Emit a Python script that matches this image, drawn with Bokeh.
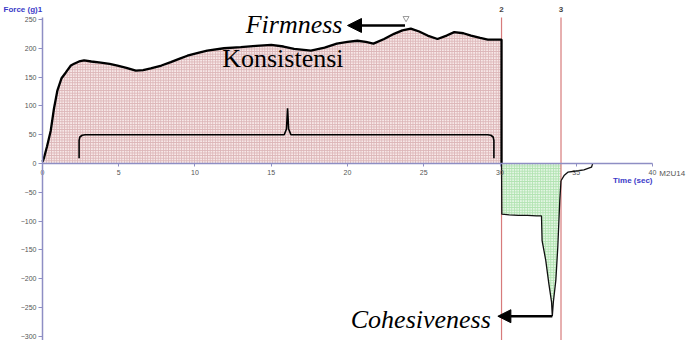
from bokeh.plotting import figure
from bokeh.models import Range1d, FixedTicker, Arrow, NormalHead
from bokeh.core.properties import value
from bokeh.embed import file_html
from bokeh.resources import INLINE

# ---- data ----
comp_time = [0, 0.1, 0.3, 0.54, 0.75, 0.98, 1.25, 1.53, 1.86, 2.07, 2.4, 2.73, 3.2, 3.82,
             4.4, 4.92, 5.5, 6.12, 6.6, 7.1, 7.8, 8.41, 9.0, 9.5, 10.2, 10.8, 11.9, 13.0,
             14.0, 15.0, 15.8, 16.5, 17.6, 18.5, 19.3, 20.0, 20.65, 21.2, 21.7, 22.4, 23.05,
             23.6, 24.15, 24.7, 25.25, 25.9, 26.5, 27.0, 27.6, 28.1, 28.7, 29.2, 30.1]
comp_force = [3, 10, 30, 57, 95, 127, 148, 158, 170, 173, 177, 179, 177, 175,
              173, 170, 166, 161, 162, 165, 170, 176, 182, 187, 192, 196, 200, 202,
              204, 206, 203, 199, 196, 201, 208, 211, 213, 211, 208, 216, 225,
              231, 234, 229, 222, 216, 222, 228, 226, 222, 218, 215, 215]

ret_time = [30.1, 30.12, 30.6, 31.2, 31.8, 32.4, 32.72, 32.76, 33.0, 33.2, 33.38, 33.43,
            33.5, 33.66, 33.79, 33.92, 34.0]
ret_force = [0, -88, -89, -90, -90, -91, -91, -134, -168, -208, -240, -265,
             -240, -203, -145, -64, -30]

tail_time = [34.0, 34.2, 34.45, 35.0, 35.5, 36.0, 36.07]
tail_force = [-30, -21, -15, -13, -11, -6.4, -0.6]

x_ticks = [0, 5, 10, 15, 20, 25, 30, 35, 40]
y_ticks = [-300, -250, -200, -150, -100, -50, 0, 50, 100, 150, 200, 250]

anchor_times = [30.1, 34.0]
anchor_labels = ["2", "3"]

brace_time = [2.4, 2.4, 2.45, 2.6, 2.8, 15.85, 16.0, 16.07, 16.14, 16.29, 29.2, 29.4, 29.55, 29.6, 29.6]
brace_force = [9, 40, 46, 49, 50, 50, 60, 96, 60, 50, 50, 49, 46, 40, 9]

Y_TOP, Y_BOT = 253.5, -307

# ---- figure (frame covers the whole canvas; axes are pinned at 0) ----
p = figure(width=689, height=340, x_range=Range1d(-2.754, 42.426), y_range=Range1d(-307.13, 282.84),
           output_backend="svg", toolbar_location=None,
           min_border_left=0, min_border_right=0, min_border_top=0, min_border_bottom=0)
p.outline_line_color = None
p.grid.visible = False
p.background_fill_color = "white"

axis_col = "#8e8ec4"
for ax in (p.xaxis[0], p.yaxis[0]):
    ax.axis_line_color = axis_col
    ax.axis_line_width = 1.5
    ax.major_tick_line_color = axis_col
    ax.major_tick_in = 0
    ax.minor_tick_line_color = None
    ax.major_label_text_font = "Liberation Sans"
    ax.major_label_text_font_size = "7px"
    ax.major_label_text_color = "#555555"
    ax.fixed_location = 0

p.xaxis.bounds = (0, 40)
p.xaxis.ticker = FixedTicker(ticks=x_ticks)
p.xaxis.major_tick_out = 3
p.xaxis.major_label_standoff = 3
p.yaxis.bounds = (Y_BOT, Y_TOP)
p.yaxis.ticker = FixedTicker(ticks=y_ticks)
p.yaxis.major_tick_out = 4
p.yaxis.major_label_standoff = 2

# fills
p.varea(x=comp_time, y1=0, y2=comp_force, fill_color="#f7e8e8",
        hatch_pattern="+", hatch_color="#dcb5b7", hatch_scale=2.6, hatch_weight=1)
p.varea(x=ret_time, y1=0, y2=ret_force, fill_color="#e4f6e4",
        hatch_pattern="+", hatch_color="#b0e2b0", hatch_scale=2.6, hatch_weight=1)

# anchor lines
p.segment(x0=anchor_times, y0=[Y_TOP] * 2, x1=anchor_times, y1=[Y_BOT] * 2,
          line_color="#d77b7b", line_width=1.2)
p.text(x=anchor_times, y=[267] * 2, text=anchor_labels, text_align="center", text_baseline="middle",
       text_font=value("Liberation Sans"), text_font_size="8px",
       text_font_style="bold", text_color="#444444")

# curves
p.line(comp_time + [30.1], comp_force + [0], line_color="black", line_width=2.3)
p.line(ret_time, ret_force, line_color="#111111", line_width=1.3)
p.line(tail_time, tail_force, line_color="#111111", line_width=1.3)

# brace
p.line(brace_time, brace_force, line_color="black", line_width=1.6)

# marker
p.scatter([23.84], [252], marker="inverted_triangle", size=6, fill_color=None,
          line_color="#999999", line_width=1)

# annotation texts
p.text([19.67], [241], text=["Firmness"], text_align="right", text_baseline="middle",
       text_font=value("Liberation Serif"), text_font_style="italic", text_font_size="26px",
       text_color="black")
p.text([15.76], [182], text=["Konsistensi"], text_align="center", text_baseline="middle",
       text_font=value("Liberation Serif"), text_font_size="26px", text_color="black")
p.text([29.4], [-271], text=["Cohesiveness"], text_align="right", text_baseline="middle",
       text_font=value("Liberation Serif"), text_font_style="italic", text_font_size="26px",
       text_color="black")

p.add_layout(Arrow(end=NormalHead(size=14, fill_color="black", line_color="black"),
                   x_start=23.77, y_start=239.5, x_end=20.0, y_end=239.5,
                   line_color="black", line_width=2.5))
p.add_layout(Arrow(end=NormalHead(size=13, fill_color="black", line_color="black"),
                   x_start=33.43, y_start=-265, x_end=29.86, y_end=-265,
                   line_color="black", line_width=2.5))

# axis titles and sample id
p.text([-2.557], [267], text=["Force (g)1"], text_align="left", text_baseline="middle",
       text_font=value("Liberation Sans"), text_font_size="8px", text_font_style="bold",
       text_color="#3a3ac8")
p.text([40], [-29.5], text=["Time (sec)"], text_align="right", text_baseline="middle",
       text_font=value("Liberation Sans"), text_font_size="8px", text_font_style="bold",
       text_color="#3a3ac8")
p.text([40.45], [-17.4], text=["M2U14"], text_align="left", text_baseline="middle",
       text_font=value("Liberation Sans"), text_font_size="8px", text_color="#555555")

open("out.html", "w").write(file_html(p, INLINE))
